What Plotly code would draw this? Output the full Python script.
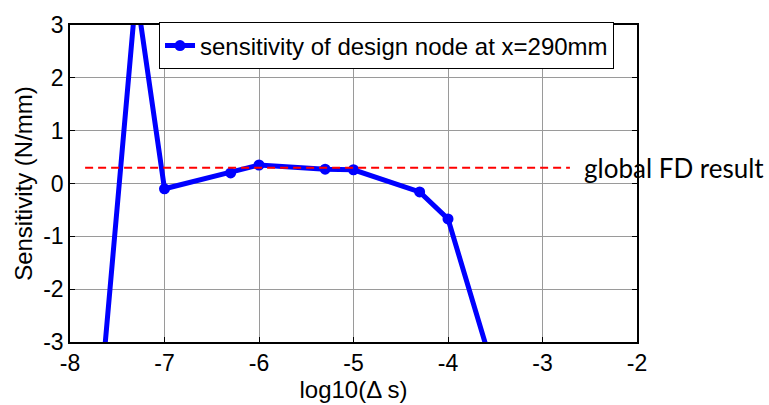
import plotly.graph_objects as go

# data
log_ds = [-7.7, -7.3, -7.0, -6.3, -6.0, -5.3, -5.0, -4.3, -4.0, -3.3]
sens = [-4.5, 3.63, -0.1, 0.2, 0.35, 0.27, 0.26, -0.16, -0.67, -4.85]
fd_x = [-7.84, -2.71]
fd_y = [0.3, 0.3]
x_ticks = [-8, -7, -6, -5, -4, -3, -2]
y_ticks = [-3, -2, -1, 0, 1, 2, 3]

FONT = "Liberation Sans, Arial"

fig = go.Figure()
fig.add_trace(go.Scatter(
    x=log_ds, y=sens, mode="lines+markers",
    name="sensitivity of design node at x=290mm",
    line=dict(color="#0000ff", width=5),
    marker=dict(color="#0000ff", size=11),
))
fig.add_trace(go.Scatter(
    x=fd_x, y=fd_y, mode="lines", showlegend=False,
    line=dict(color="#ff0000", width=2, dash="8px,5px"),
))

axis_common = dict(
    showline=True, linecolor="black", linewidth=1.5, mirror="allticks",
    ticks="inside", ticklen=5, tickcolor="black",
    showgrid=True, gridcolor="#9a9a9a", gridwidth=1, zeroline=False,
    tickfont=dict(family=FONT, size=23, color="black"),
)
fig.update_xaxes(range=[-8, -2], tickvals=x_ticks, ticktext=[str(v) for v in x_ticks],
                 title=dict(text="log10(Δ s)", font=dict(family=FONT, size=24, color="black"), standoff=0),
                 **axis_common)
fig.update_yaxes(range=[-3, 3], tickvals=y_ticks, ticktext=[str(v) for v in y_ticks],
                 title=dict(text="Sensitivity (N/mm)", font=dict(family=FONT, size=24, color="black"), standoff=4),
                 **axis_common)

fig.add_annotation(x=0.903, xref="paper", y=0.3, yref="y", text="global FD result",
                   showarrow=False, xanchor="left", yanchor="middle",
                   font=dict(family="Lato, Open Sans", size=26, color="black"))

fig.update_layout(
    width=769, height=405,
    margin=dict(l=70, r=132, t=16, b=57),
    paper_bgcolor="white", plot_bgcolor="white",
    legend=dict(x=0.157, y=1.008, xanchor="left", yanchor="top",
                bgcolor="white", bordercolor="black", borderwidth=1,
                font=dict(family=FONT, size=24, color="black"),
                itemwidth=30, tracegroupgap=0),
    showlegend=True,
)

fig.write_html("out.html")
